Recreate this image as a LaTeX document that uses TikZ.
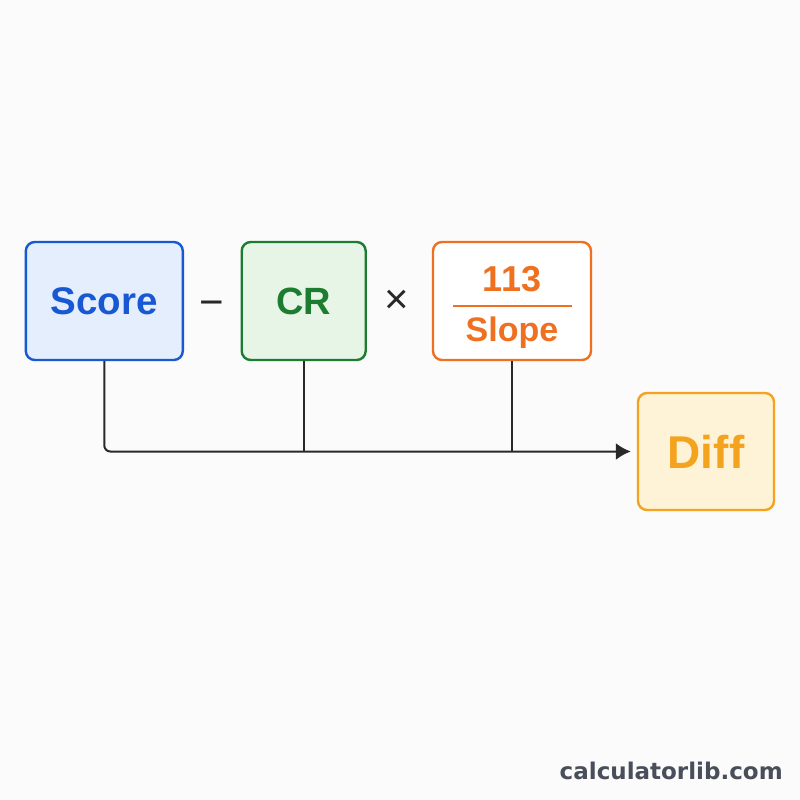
\documentclass[tikz,border=0pt]{standalone}
\usepackage{fontspec}
\setmainfont{Liberation Sans}
\newfontfamily\wmfont{DejaVu Sans}
\usetikzlibrary{arrows.meta}
\definecolor{bgpaper}{RGB}{251,251,251}
\definecolor{linedark}{RGB}{40,40,40}
\definecolor{scoreblue}{RGB}{24,88,210}
\definecolor{scorefill}{RGB}{228,238,252}
\definecolor{crgreen}{RGB}{28,125,48}
\definecolor{crfill}{RGB}{231,245,231}
\definecolor{slopeorange}{RGB}{238,112,32}
\definecolor{diffamber}{RGB}{244,163,30}
\definecolor{difffill}{RGB}{254,243,214}
\definecolor{wmgray}{RGB}{72,78,90}

\begin{document}
\begin{tikzpicture}[x=1pt,y=-1pt,line width=2pt]
  \tikzstyle{box}=[rectangle,rounded corners=9pt,line width=2.4pt,minimum height=118pt,inner sep=0pt]
  \tikzstyle{op}=[text=linedark,font=\fontsize{42}{46}\selectfont]
  \fill[bgpaper] (0,0) rectangle (800,800);
  \node[box,draw=scoreblue,fill=scorefill,text=scoreblue,minimum width=157pt,font=\bfseries\fontsize{38.5}{42}\selectfont] (S) at (104.3,301) {Score};
  \node[op] (M) at (212,309) {−};
  \node[box,draw=crgreen,fill=crfill,text=crgreen,minimum width=124pt,font=\bfseries\fontsize{38}{42}\selectfont] (CR) at (303.7,301) {CR};
  \node[op] (X) at (397,302) {×};
  \node[box,draw=slopeorange,fill=white,minimum width=158pt] (F) at (512,301) {};
  \node[text=slopeorange,font=\bfseries\fontsize{36}{40}\selectfont,anchor=base] (N) at (512,291.7) {113};
  \node[text=slopeorange,font=\bfseries\fontsize{34}{38}\selectfont,anchor=base] (L) at (512,341.7) {Slope};
  \draw[slopeorange] (452.7,305.7) -- (571.7,305.7);
  \node[box,draw=diffamber,fill=difffill,text=diffamber,minimum width=136pt,minimum height=117pt,font=\bfseries\fontsize{46}{50}\selectfont] (D) at (706,451.5) {Diff};
  \coordinate (T) at ([xshift=-6pt]D.west);
  \draw[linedark,rounded corners=6pt,-{Latex[length=15pt,width=17pt]}] (S.south) |- (T);
  \draw[linedark] (CR.south) -- (CR.south |- T);
  \draw[linedark] (F.south) -- (F.south |- T);
  \node[text=wmgray,font=\wmfont\bfseries\fontsize{23}{26}\selectfont,anchor=base east] (W) at (787,779) {calculatorlib.com};
\end{tikzpicture}
\end{document}
